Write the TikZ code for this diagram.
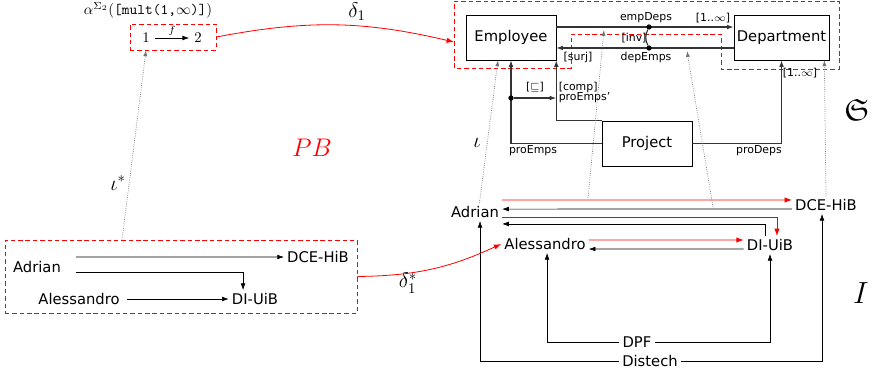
\documentclass[tikz,border=0pt]{standalone}
\usepackage{fontspec}
\usepackage{amssymb}
\setmainfont{DejaVu Sans}
\usetikzlibrary{arrows.meta, positioning, calc}

\begin{document}
\begin{tikzpicture}[
    x=0.678pt, y=-0.678pt,
    entity/.style={
        rectangle, draw=black, thin,
        minimum width=61pt, minimum height=30.5pt, inner sep=2pt
    },
    inst/.style={inner sep=2pt},
    lbl/.style={font=\fontsize{7.4}{8}\selectfont, inner sep=1pt},
    line/.style={draw=black!80, line width=0.75pt},
    arr/.style={-{Latex[length=4.5pt,width=3.2pt]}},
    dot/.style={circle, fill=black, inner sep=0pt, minimum size=3.6pt},
    redbox/.style={draw=red, densely dashed, line width=0.55pt},
    morph/.style={draw=red, line width=0.55pt, -{Latex[length=5pt,width=3.6pt]}},
    map/.style={draw=black!55, densely dotted, line width=0.5pt, -{Latex[length=4pt,width=2.8pt]}},
    bigmath/.style={font=\huge}
]
\useasboundingbox (0,0) rectangle (872,373);

% -------------------------
% 1. Pattern: alpha([mult(1,inf)])
% -------------------------
\node (alpha) at (148,10) {$\alpha^{\Sigma_2}(\texttt{[mult(1,}\infty\texttt{)]})$};
\node[redbox, minimum width=58.3pt, minimum height=17.6pt] (pat) at (173,37) {};
\node (one) at (146,38) {$1$};
\node (two) at (198,38) {$2$};
\draw[arr] (one) -- node[above=-2pt, font=\scriptsize] {$f$} (two);

% -------------------------
% 2. Schema S
% -------------------------
\draw[redbox] (454,1) -- (839,1) -- (839,69) -- (721,69) -- (721,34) -- (571,34) -- (571,68) -- (454,68) -- cycle;
\coordinate (sch) at (454,42);

\node[entity] (emp) at (511,37.5) {Employee};
\node[entity] (dep) at (781.5,37.5) {Department};
\node[entity] (proj) at (647,143.5) {Project};

\draw[line, arr] ([yshift=7.1pt]emp.east) -- ([yshift=7.1pt]dep.west);
\draw[line, arr] ([yshift=-7.1pt]dep.west) -- ([yshift=-7.1pt]emp.east);
\node[dot] (invTop) at (649,27) {};
\node[dot] (invBot) at (649,48) {};
\draw[line] (invTop) to[bend right=25] (invBot);

\node[lbl] (lEmpDeps) at (646,18) {empDeps};
\node[lbl] (lCard1) at (713,18) {[1..$\infty$]};
\node[lbl] (lInv) at (634,38) {[inv]};
\node[lbl] (lDepEmps) at (646,57) {depEmps};
\node[lbl] (lSurj) at (578,57) {[surj]};

\draw[line, arr] (proj.west) -| (emp.south);
\draw[line, arr] (proj.east) -| (dep.south);
\draw[line, arr] (proj.north west) -| (emp.south east);
\node[dot] (sub) at (511,98) {};
\draw[line, arr] (sub) -- (sub -| emp.south east);

\node[lbl] (lSub) at (535,87) {[$\sqsubseteq$]};
\node[lbl, anchor=west] (lComp) at (557,87) {[comp]};
\node[lbl, anchor=west] (lProEmpsP) at (557,98) {proEmps'};
\node[lbl] (lProEmps) at (533,151) {proEmps};
\node[lbl] (lProDeps) at (759,151) {proDeps};
\node[lbl] (lCard2) at (800,73) {[1..$\infty$]};

% -------------------------
% 3. Match in the pattern (left)
% -------------------------
\node[redbox, minimum width=238.7pt, minimum height=49.5pt] (lbox) at (181,276.5) {};
\node[inst] (la) at (37,267) {Adrian};
\node[inst] (ld) at (318,257) {DCE-HiB};
\node[inst] (ls) at (79,299) {Alessandro};
\node[inst] (lu) at (255,299) {DI-UiB};
\draw[arr] ([xshift=8pt, yshift=6.8pt]la.east) -- (ld.west);
\draw[arr] ([xshift=8pt, yshift=-3.4pt]la.east) -| ([xshift=-8.1pt]lu.north);
\draw[arr] ([xshift=3pt]ls.east) -- (lu.west);

% -------------------------
% 4. Instance I (right)
% -------------------------
\node[inst] (ra) at (475,212) {Adrian};
\node[inst] (rd) at (826,205) {DCE-HiB};
\node[inst] (rs) at (545,244) {Alessandro};
\node[inst] (ru) at (770,245) {DI-UiB};
\node[inst] (dpf) at (637,342) {DPF};
\node[inst] (dis) at (650,361) {Distech};

\draw[morph] ([yshift=8.1pt]ra.east) -- ([yshift=3.4pt]rd.west);
\draw[arr] ([yshift=-2.7pt]rd.west) -- ([yshift=2pt]ra.east);
\draw[morph] ([yshift=-3.4pt]ra.east) -| ([xshift=4.7pt]ru.north);
\draw[arr] ([xshift=-3.4pt]ru.north) |- ([yshift=-8.1pt]ra.east);
\draw[morph] ([yshift=2.7pt]rs.east) -- ([yshift=3.4pt]ru.west);
\draw[arr] ([yshift=-2.7pt]ru.west) -- ([yshift=-3.4pt]rs.east);

\draw[arr] (dpf.west) -| ([xshift=1.4pt]rs.south);
\draw[arr] (dpf.east) -| (ru.south);
\draw[arr] (dis.west) -| ([xshift=3.4pt]ra.south);
\draw[arr] (dis.east) -| ([xshift=-2.7pt]rd.south);

% -------------------------
% 5. Typing maps (iota) and morphisms (delta)
% -------------------------
\coordinate (eDs) at (588,198);
\coordinate (eDt) at (604,30);
\coordinate (dEs) at (713,207);
\coordinate (dEt) at (687,51);
\draw[map] ([xshift=3pt]ra.north) -- ([xshift=-8.8pt]emp.south);
\draw[map] (eDs) -- (eDt);
\draw[map] (dEs) -- (dEt);
\draw[map] (rd.north) -- ([xshift=-3.4pt]dep.south east);
\draw[map] ([xshift=-40pt]lbox.north) -- ([xshift=-18.3pt]pat.south);

\draw[morph] (pat.east) to[bend left=12] (sch);
\draw[morph] (lbox.east) to[bend right=12] (rs.west);

\node[font=\Large] (lDelta) at (357,12) {$\delta_1$};
\node[font=\Large] (lDeltaS) at (408,283) {$\delta_1^*$};
\node[font=\Large] (lIotaS) at (118,183) {$\iota^*$};
\node[font=\Large] (lIota) at (477,143) {$\iota$};
\node[font=\LARGE, text=red] (lPB) at (312,148) {$PB$};
\node[bigmath] (lS) at (857,110) {$\mathfrak{S}$};
\node[bigmath] (lI) at (861,293) {$I$};

\end{tikzpicture}
\end{document}
